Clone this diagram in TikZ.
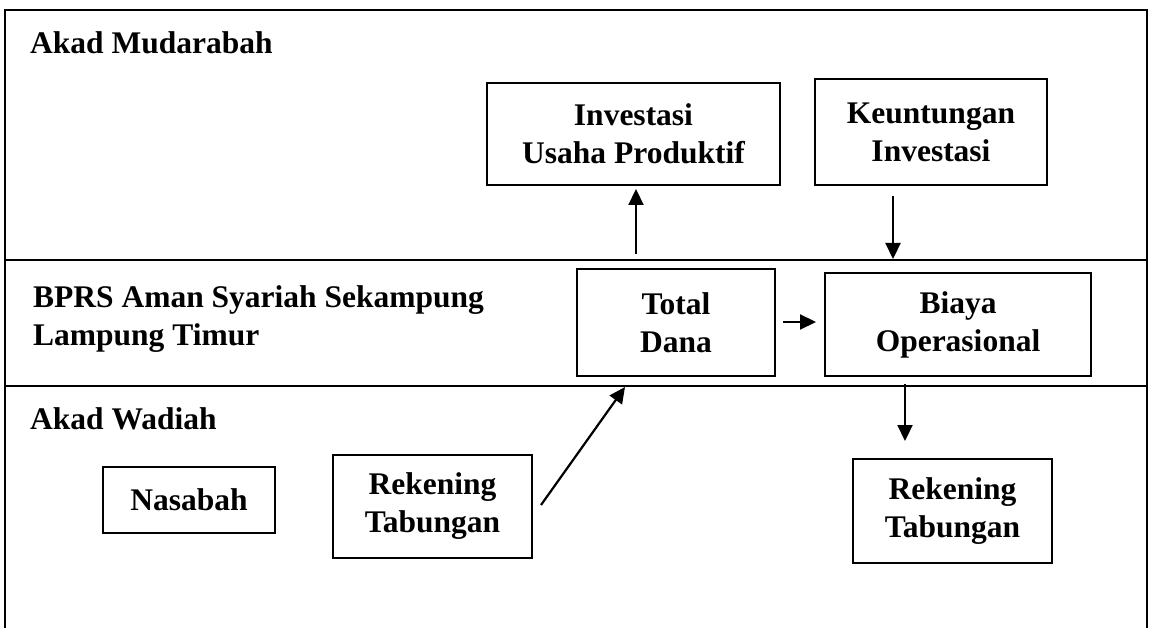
\documentclass[tikz,border=0pt]{standalone}
\usepackage{fontspec}
\setmainfont{Liberation Serif}
\usetikzlibrary{arrows.meta,calc}
\begin{document}
\begin{tikzpicture}[x=1pt,y=-1pt,
  every node/.style={font=\fontsize{31.5}{38}\selectfont\bfseries},
  box/.style={draw,line width=2pt,inner sep=0pt,align=center},
  frame/.style={line width=2.4pt},
  arr/.style={line width=2.2pt,-{Triangle[length=16pt,width=15pt]}}]
\useasboundingbox (0,0) rectangle (1152,628);
% frame and bands
\draw[frame] (5,628) -- (5,10) -- (1147,10) -- (1147,628);
\draw[frame] (5,260) -- (1147,260);
\draw[frame] (5,386) -- (1147,386);
% section titles
\node[anchor=base west,inner sep=0pt] (tMud) at (30,54) {Akad Mudarabah};
\node[anchor=base west,inner sep=0pt,align=left] (tBprs) at (33,346) {BPRS Aman Syariah Sekampung\\Lampung Timur};
\node[anchor=base west,inner sep=0pt] (tWad) at (30,429) {Akad Wadiah};
% boxes
\node[box,minimum width=293pt,minimum height=102pt] (inv) at (633.5,134) {Investasi\\Usaha Produktif};
\node[box,minimum width=232pt,minimum height=106pt] (keu) at (931,132) {Keuntungan\\Investasi};
\node[box,minimum width=198pt,minimum height=107pt] (tot) at (676,322.5) {Total\\Dana};
\node[box,minimum width=266pt,minimum height=103pt] (bia) at (958,324.5) {Biaya\\Operasional};
\node[box,minimum width=172pt,minimum height=66pt] (nas) at (189,500) {Nasabah};
\node[box,minimum width=199pt,minimum height=103pt] (rekL) at (432.5,506.5) {Rekening\\Tabungan};
\node[box,minimum width=199pt,minimum height=104pt] (rekR) at (952.5,511) {Rekening\\Tabungan};
% connector ends
\coordinate (upS) at (636,254);
\coordinate (dnE) at (893,259);
\coordinate (diaS) at (541,505);
\coordinate (diaE) at (625,387);
\coordinate (dn2S) at (905,384);
\coordinate (dn2E) at (905,441);
% connectors
\draw[arr,shorten >=3pt] (upS) -- (upS |- inv.south);
\draw[arr,shorten <=10pt] (keu.south -| dnE) -- (dnE);
\draw[arr,shorten <=7pt,shorten >=8pt] (tot.east |- 0,322) -- (bia.west |- 0,322);
\draw[arr] (diaS) -- (diaE);
\draw[arr] (dn2S) -- (dn2E);
\end{tikzpicture}
\end{document}
